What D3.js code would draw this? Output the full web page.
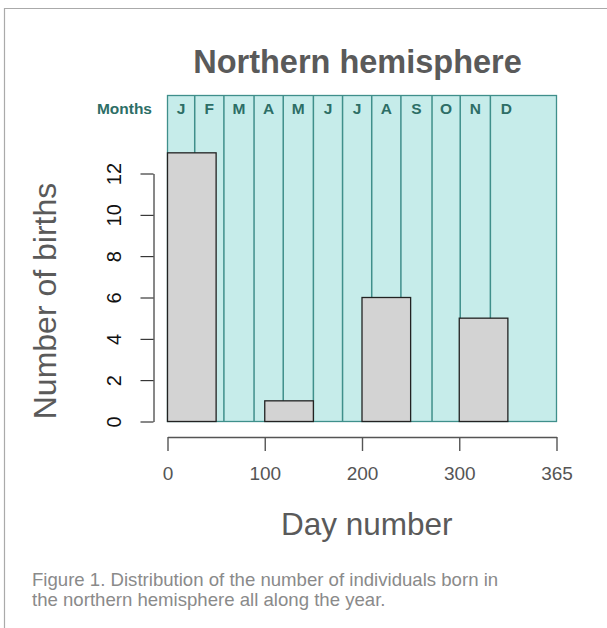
<!DOCTYPE html>
<html><head><meta charset="utf-8">
<script src="https://cdn.jsdelivr.net/npm/d3@7"></script>
<style>body{margin:0;background:#fff}svg{display:block}</style>
</head><body>
<script>
// ---- data ----
const binStarts = [0, 50, 100, 150, 200, 250, 300, 350];
const binWidth = 50;
const counts = [13, 0, 1, 0, 6, 0, 5, 0];
const monthLabels = ["J","F","M","A","M","J","J","A","S","O","N","D"];
const monthStarts = [0, 28, 58, 89, 119, 150, 180, 210, 240, 272, 301, 332];
const yearEnd = 365;
const xTickValues = [0, 100, 200, 300, 400];
const xTickLabels = ["0", "100", "200", "300", "365"];
const yTickValues = [0, 2, 4, 6, 8, 10, 12];

const W = 607, H = 628;
const svg = d3.select("body").append("svg").attr("width", W).attr("height", H);
const font = "'Liberation Sans', Arial, Helvetica, sans-serif";

// frame
svg.append("path").attr("d", `M4.5,${H} V8.5 H${W}`).attr("fill","none").attr("stroke","#aaa").attr("stroke-width",1.2);

const x = d3.scaleLinear().domain([0, 400]).range([167.5, 556.5]);
const y = d3.scaleLinear().domain([0, 12]).range([421.5, 173.5]);
const plotTop = 95.5, plotBottom = y(0);

// plot background
svg.append("rect").attr("x", x(0)).attr("y", plotTop).attr("width", x(400)-x(0)).attr("height", plotBottom-plotTop)
  .attr("fill", "#c6ecea").attr("stroke", "#3f8f8b").attr("stroke-width", 1.3);

// month lines
svg.selectAll("line.month").data(monthStarts.slice(1)).join("line")
  .attr("x1", d => x(d)).attr("x2", d => x(d)).attr("y1", plotTop).attr("y2", plotBottom)
  .attr("stroke", "#3f8f8b").attr("stroke-width", 1.5);

// month labels
const monthEnds = monthStarts.slice(1).concat([yearEnd]);
svg.selectAll("text.month").data(monthLabels).join("text")
  .attr("x", (d,i) => x((monthStarts[i] + monthEnds[i]) / 2))
  .attr("y", 114)
  .attr("text-anchor", "middle").attr("font-family", font).attr("font-weight", "bold")
  .attr("font-size", 15.5).attr("fill", "#2d6e66").text(d => d);
svg.append("text").attr("x", 152).attr("y", 114).attr("text-anchor", "end")
  .attr("font-family", font).attr("font-weight", "bold").attr("font-size", 15.5).attr("fill", "#2d6e66").text("Months");

// bars
svg.selectAll("rect.bar").data(binStarts.map((s,i)=>({s, c: counts[i]})).filter(d => d.c > 0)).join("rect")
  .attr("x", d => x(d.s)).attr("width", d => x(d.s + binWidth) - x(d.s))
  .attr("y", d => y(d.c)).attr("height", d => y(0) - y(d.c))
  .attr("fill", "#d3d3d3").attr("stroke", "#222").attr("stroke-width", 1.3);

// x axis
const xAxis = d3.axisBottom(x).tickValues(xTickValues).tickSize(14).tickSizeOuter(0)
  .tickFormat((d,i) => xTickLabels[i]);
const gx = svg.append("g").attr("transform", "translate(0,437)").call(xAxis);
gx.select(".domain").attr("stroke", "#555").attr("stroke-width", 1.4);
gx.selectAll(".tick line").attr("stroke", "#555").attr("stroke-width", 1.4).attr("y2", 14);
gx.selectAll(".tick text").attr("font-family", font).attr("font-size", 19).attr("fill", "#555").attr("dy", 0).attr("y", 43);

// y axis
const yAxis = d3.axisLeft(y).tickValues(yTickValues).tickSize(13).tickSizeOuter(0);
const gy = svg.append("g").attr("transform", "translate(153.5,0)").call(yAxis);
gy.select(".domain").attr("stroke", "#111");
gy.selectAll(".tick line").attr("stroke", "#111");
gy.selectAll(".tick text").attr("font-family", font).attr("font-size", 20).attr("fill", "#111")
  .attr("x", null).attr("dy", null).attr("text-anchor", "middle")
  .attr("transform", "translate(-33,0) rotate(-90)");

// titles
svg.append("text").attr("x", 357.5).attr("y", 73).attr("text-anchor", "middle")
  .attr("font-family", font).attr("font-weight", "bold").attr("font-size", 32.5).attr("fill", "#5a5a5a").text("Northern hemisphere");
svg.append("text").attr("x", 366.7).attr("y", 535).attr("text-anchor", "middle")
  .attr("font-family", font).attr("font-size", 31.5).attr("fill", "#5a5a5a").text("Day number");
svg.append("text").attr("transform", "translate(56,301) rotate(-90)").attr("text-anchor", "middle")
  .attr("font-family", font).attr("font-size", 32).attr("fill", "#5a5a5a").text("Number of births");

// caption
const cap = svg.append("text").attr("font-family", font).attr("font-size", 18.6).attr("fill", "#8a8a8a");
cap.append("tspan").attr("x", 32).attr("y", 586).text("Figure 1. Distribution of the number of individuals born in");
cap.append("tspan").attr("x", 32).attr("y", 605.5).text("the northern hemisphere all along the year.");
</script>
</body></html>
